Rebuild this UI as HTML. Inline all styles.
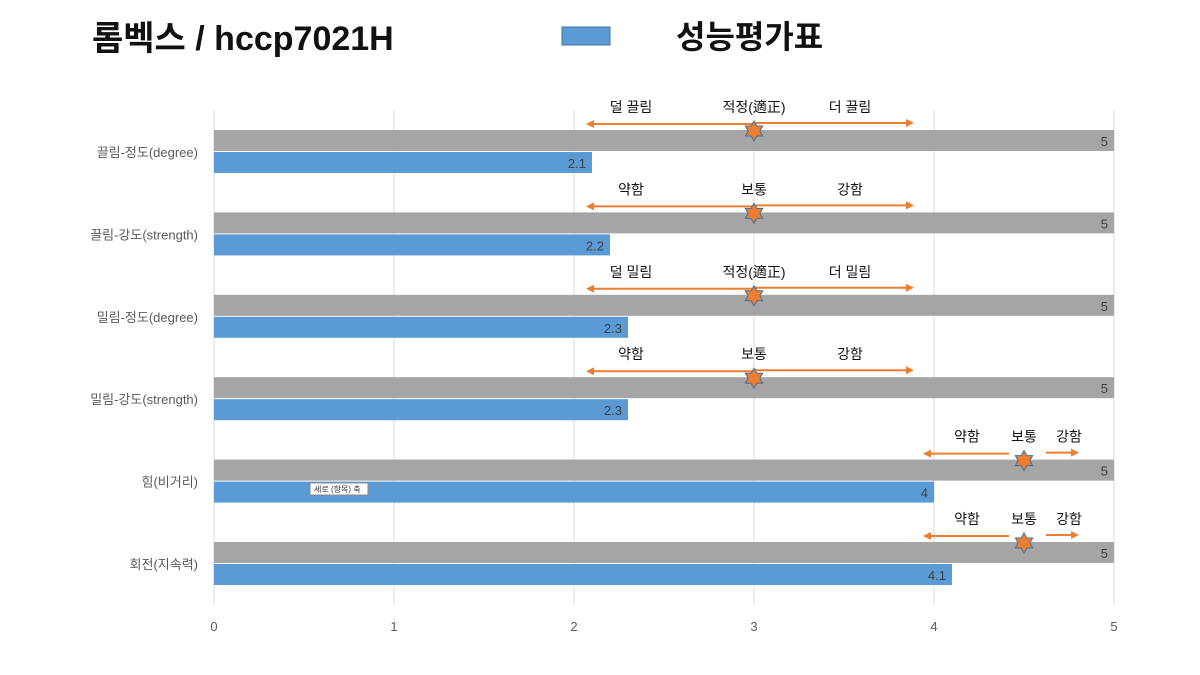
<!DOCTYPE html>
<html><head><meta charset="utf-8"><style>
body{margin:0;background:#fff;}
svg{display:block;font-family:"Liberation Sans","Noto Sans CJK KR",sans-serif;}
</style></head><body>
<svg id="c" width="1200" height="675">
<text x="92" y="50" font-size="34" font-weight="bold" fill="#111">롬벡스 / hccp7021H</text>
<rect x="562" y="27" width="48" height="18" fill="#5b9bd5" stroke="#41719c"/>
<text x="676" y="48" font-size="32" font-weight="bold" fill="#111">성능평가표</text>
<g id="plot"></g>
<g><rect x="310" y="483" width="58" height="12" fill="#fff" stroke="#888"/><text x="314" y="492" font-size="8" fill="#333">세로 (항목) 축</text></g>
</svg>
<script>
const categories=["끌림-정도(degree)","끌림-강도(strength)","밀림-정도(degree)","밀림-강도(strength)","힘(비거리)","회전(지속력)"];
const maxValues=[5,5,5,5,5,5];
const scoreValues=[2.1,2.2,2.3,2.3,4,4.1];
const ticks=[0,1,2,3,4,5];
const markerPos=[3,3,3,3,4.5,4.5];
const labelsL=["덜 끌림","약함","덜 밀림","약함","약함","약함"];
const labelsM=["적정(適正)","보통","적정(適正)","보통","보통","보통"];
const labelsR=["더 끌림","강함","더 밀림","강함","강함","강함"];
const NS="http://www.w3.org/2000/svg";
const g=document.getElementById('plot');
const x0=214,xs=180,top0=130,rowH=82.4;
const X=v=>x0+v*xs;
function el(t,a,txt){const e=document.createElementNS(NS,t);for(const k in a)e.setAttribute(k,a[k]);if(txt!=null)e.textContent=txt;g.appendChild(e);return e;}
ticks.forEach(t=>{
 const l=el('line',{x1:X(t),x2:X(t),y1:110,y2:606,stroke:'#d9d9d9','stroke-width':1});
 
 
 const tx=el('text',{x:X(t),y:631,'font-size':13,fill:'#595959','text-anchor':'middle'},t);
 
 
});
categories.forEach((c,i)=>{
 const y=top0+i*rowH;
 const gb=el('rect',{x:X(0),y:y,width:X(maxValues[i])-X(0),height:21,fill:'#a5a5a5'});
 
 
 const gt=el('text',{x:X(maxValues[i])-6,y:y+16,'font-size':13,fill:'#404040','text-anchor':'end'},maxValues[i]);
 
 
 const bb=el('rect',{x:X(0),y:y+22,width:X(scoreValues[i])-X(0),height:21,fill:'#5b9bd5'});
 
 
 const bt=el('text',{x:X(scoreValues[i])-6,y:y+38,'font-size':13,fill:'#404040','text-anchor':'end'},scoreValues[i]);
 
 
 const ct=el('text',{x:198,y:y+27,'font-size':13,fill:'#595959','text-anchor':'end'},c);
 
 
 // annotation
 const m=X(markerPos[i]);const ay=y-6;
 const wide=markerPos[i]===3;
 const L=wide?m-168:m-101, R=wide?m+160:m+55, gl=wide?0:15, gr=wide?0:22;
 const col='#ed7d31';
 const a1=el('line',{x1:L+6,x2:m-gl,y1:ay,y2:ay,stroke:col,'stroke-width':2});
 
 
 const h1=el('polygon',{points:`${L},${ay} ${L+8},${ay-4} ${L+8},${ay+4}`,fill:col});
 
 
 const a2=el('line',{x1:m+gr,x2:R-6,y1:ay-1,y2:ay-1,stroke:col,'stroke-width':2});
 
 
 const h2=el('polygon',{points:`${R},${ay-1} ${R-8},${ay-5} ${R-8},${ay+3}`,fill:col});
 
 
 const sy=y+1,r=10,r2=5.8;let p=[];
 for(let k=0;k<12;k++){const ang=Math.PI/2+k*Math.PI/6;const rr=k%2?r2:r;p.push((m+rr*Math.cos(ang)).toFixed(1)+','+(sy-rr*Math.sin(ang)).toFixed(1));}
 const st=el('polygon',{points:p.join(' '),fill:col,stroke:'#41719c','stroke-width':1});
 
 
 const ly=y-18;
 const lx=wide?[m-123,m,m+96]:[m-57,m,m+45];
 [labelsL[i],labelsM[i],labelsR[i]].forEach((s,k)=>{
  const t=el('text',{x:lx[k],y:ly,'font-size':14,fill:'#111','text-anchor':'middle'},s);
  
  
 });
});
</script>
</body></html>
